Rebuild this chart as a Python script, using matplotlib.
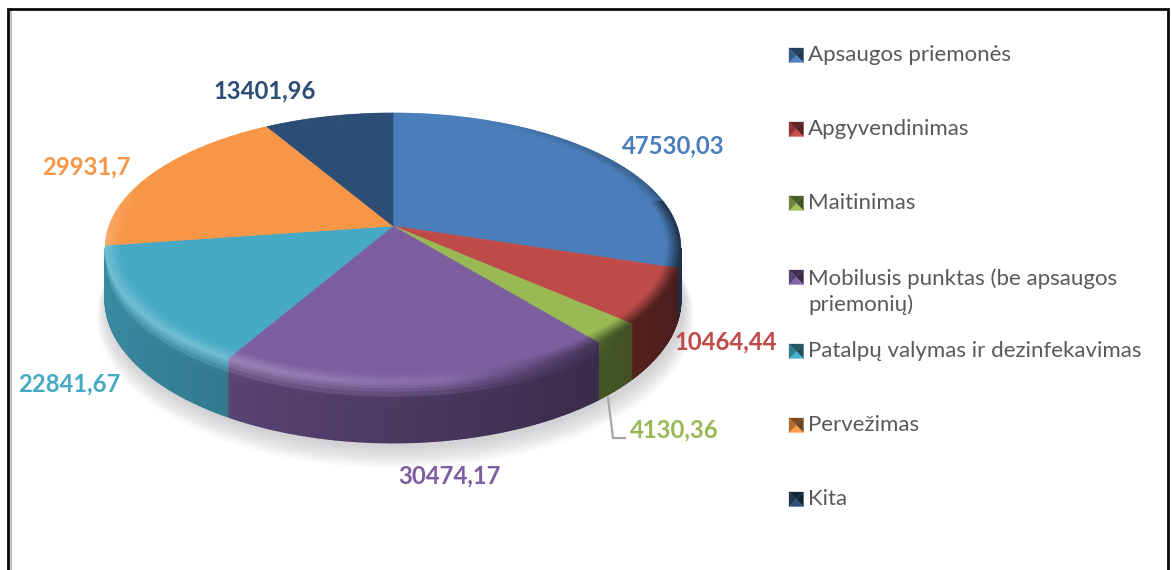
import numpy as np
import matplotlib
matplotlib.use("Agg")
import matplotlib.pyplot as plt
from matplotlib.collections import PolyCollection
from matplotlib.colors import to_rgb

categories = ["Apsaugos priemonės", "Apgyvendinimas", "Maitinimas",
              "Mobilusis punktas (be apsaugos\npriemonių)",
              "Patalpų valymas ir dezinfekavimas", "Pervežimas", "Kita"]
values = [47530.03, 10464.44, 4130.36, 30474.17, 22841.67, 29931.7, 13401.96]
value_labels = ["47530,03", "10464,44", "4130,36", "30474,17", "22841,67", "29931,7", "13401,96"]
colors = ["#4A7EBB", "#BE4B48", "#98B954", "#7D5FA0", "#46AAC5", "#F79646", "#2C4D75"]

label_xy = [(673, 146), (726, 342), (674, 430), (449, 476), (69, 384), (86, 167), (265, 91)]
legend_y = [56, 130, 204, 278, 352, 426, 500]

CX, CY, A, B, K, D = 393.0, 226.0, 284.0, 131.4, 0.163, 50.0


def project(r, theta, t=0.0):
    u, v = r * np.sin(theta), r * np.cos(theta)
    w = 1 + K * v
    return CX + A * u / w, CY - B * v / w + t * D / w


def mix(c1, c2, f):
    c1, c2 = np.asarray(c1), np.asarray(c2)
    return c1 + (c2 - c1) * np.clip(f, 0, 1)


def shades(base, am):
    u, v = np.sin(am), np.cos(am)
    wall = base * (0.60 - 0.22 * u)
    light = 0.24 * np.clip(0.5 - u, 0, 1) * np.clip((0.35 - v) / 0.5, 0, 1)
    hi = mix(mix(base, [1, 1, 1], light), wall, (u - 0.15) / 0.55)
    if v > 0.2 and u > 0:
        hi = mix(base, wall, 0.5 * (u - 0.3) / 0.7)
    return wall, hi


plt.rcParams["font.family"] = ["Lato", "DejaVu Sans"]
fig = plt.figure(figsize=(11.72, 5.70), dpi=100)
ax = fig.add_axes([0, 0, 1, 1])
ax.set_xlim(0, 1172)
ax.set_ylim(570, 0)
ax.axis("off")

# frame
ax.plot([10.5, 10.5], [570, 11], color="#b5b5b5", lw=1.2, zorder=1)
ax.plot([8.2, 8.2, 1168.3, 1168.3], [570, 8.8, 8.8, 570], color="#0a0a0a", lw=2.0,
        solid_joinstyle="miter", zorder=1)

# soft shadow
th = np.linspace(0, 2 * np.pi, 361)
for i in range(10):
    grow = 1.0 + 0.0035 * (10 - i)
    x, y = project(grow, th, 1.0 + 0.025 * (10 - i))
    ax.fill(x + 2, y + 3, color="#8f8f9a", alpha=0.045, lw=0, zorder=2)

fractions = np.array(values) / np.sum(values)
edges = np.concatenate([[0], np.cumsum(fractions)]) * 2 * np.pi

polys, cols = [], []
r_bands = np.linspace(0.95, 1.0, 7)
t_bands = np.array([0, 0.05, 0.1, 0.16, 0.24, 0.34, 1.0])

for start, end, col in zip(edges[:-1], edges[1:], colors):
    base = np.array(to_rgb(col))
    n = max(8, int((end - start) / 0.012))
    angs = np.linspace(start, end, n + 1)
    for a0, a1 in zip(angs[:-1], angs[1:]):
        am = (a0 + a1) / 2
        if np.cos(am) > -K:
            continue
        wall, hi = shades(base, am)
        for t0, t1 in zip(t_bands[:-1], t_bands[1:]):
            xa, ya = project(1, a0, t0); xb, yb = project(1, a1, t0)
            xc, yc = project(1, a1, t1); xd, yd = project(1, a0, t1)
            polys.append([(xa, ya), (xb, yb), (xc, yc), (xd, yd)])
            cols.append(mix(hi, wall, ((t0 + t1) / 2) / 0.3))

ax.add_collection(PolyCollection(polys, facecolors=cols, edgecolors=cols, linewidths=1.0, zorder=3))

polys, cols = [], []
for start, end, col in zip(edges[:-1], edges[1:], colors):
    base = np.array(to_rgb(col))
    n = max(8, int((end - start) / 0.012))
    angs = np.linspace(start, end, n + 1)
    x, y = project(r_bands[0], angs)
    ax.fill(np.r_[CX, x], np.r_[CY, y], color=base, lw=0.4, zorder=4)
    for a0, a1 in zip(angs[:-1], angs[1:]):
        am = (a0 + a1) / 2
        wall, hi = shades(base, am)
        for r0, r1 in zip(r_bands[:-1], r_bands[1:]):
            xa, ya = project(r0, a0); xb, yb = project(r0, a1)
            xc, yc = project(r1, a1); xd, yd = project(r1, a0)
            polys.append([(xa, ya), (xb, yb), (xc, yc), (xd, yd)])
            cols.append(mix(base, hi, ((r0 + r1) / 2 - r_bands[0]) / (1 - r_bands[0])))
ax.add_collection(PolyCollection(polys, facecolors=cols, edgecolors=cols, linewidths=0.5, zorder=4))

# leader line for the small slice
ax.plot([608, 613, 625], [398, 438, 438], color="#a6a6a6", lw=1.6, zorder=5)

# value labels
for (lx, ly), txt, col in zip(label_xy, value_labels, colors):
    ax.text(lx, ly, txt, color=col, fontsize=17.2, fontweight="bold", ha="center", va="center", zorder=6)

# legend
for name, col, ly in zip(categories, colors, legend_y):
    base = np.array(to_rgb(col))
    x0, x1, y0, y1 = 789, 803.5, ly - 8, ly + 6.5
    xm, ym = (x0 + x1) / 2, (y0 + y1) / 2
    facets = [([x0, x1, xm], [y0, y0, ym], 0.5), ([x1, x1, xm], [y0, y1, ym], 0.45),
              ([x0, x1, xm], [y1, y1, ym], 1.05), ([x0, x0, xm], [y0, y1, ym], 0.72)]
    for fx, fy, s in facets:
        ax.fill(fx, fy, color=np.clip(base * s, 0, 1), lw=0.2, zorder=6)
    multi = "\n" in name
    ax.text(808, ly + 13.5 if multi else ly - 1, name, color="#595959", fontsize=16.0, ha="left",
            va="center", linespacing=1.34, zorder=6)

fig.savefig("out.png", dpi=100)
